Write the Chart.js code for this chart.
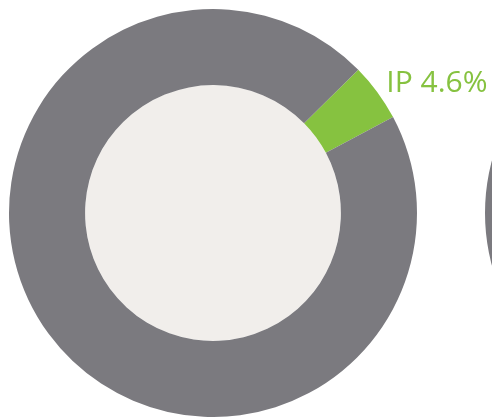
<!DOCTYPE html>
<html>
<head>
<meta charset="utf-8">
<script src="https://cdn.jsdelivr.net/npm/chart.js@4"></script>
<style>
  html, body { margin: 0; padding: 0; background: #fff; }
  #wrap { position: relative; width: 492px; height: 417px; overflow: hidden; }
  #main { position: absolute; left: 0; top: 0; }
  #next { position: absolute; left: 485px; top: 9px; }
</style>
</head>
<body>
<div id="wrap">
  <canvas id="main" width="492" height="417"></canvas>
  <canvas id="next" width="408" height="408"></canvas>
</div>
<script>
const labels = ["IP", "Other"];
const values = [4.6, 95.4];
const colors = ["#86c240", "#7b7a7f"];
const holeColor = "#f1eeeb";

// fill the doughnut hole
const holeFill = {
  id: "holeFill",
  beforeDatasetsDraw(chart) {
    const arc = chart.getDatasetMeta(0).data[0];
    if (!arc) return;
    const { x, y, innerRadius } = arc.getProps(["x", "y", "innerRadius"], true);
    const ctx = chart.ctx;
    ctx.save();
    ctx.fillStyle = holeColor;
    ctx.beginPath();
    ctx.arc(x, y, innerRadius, 0, Math.PI * 2);
    ctx.fill();
    ctx.restore();
  }
};

// label next to the first slice
const sliceLabel = {
  id: "sliceLabel",
  afterDatasetsDraw(chart) {
    const arc = chart.getDatasetMeta(0).data[0];
    const { x, y, startAngle, endAngle, outerRadius } =
      arc.getProps(["x", "y", "startAngle", "endAngle", "outerRadius"], true);
    const mid = (startAngle + endAngle) / 2;
    const px = x + Math.cos(mid) * outerRadius;
    const py = y + Math.sin(mid) * outerRadius;
    const ctx = chart.ctx;
    ctx.save();
    ctx.fillStyle = colors[0];
    ctx.font = "400 30px 'Open Sans'";
    ctx.textAlign = "left";
    ctx.textBaseline = "alphabetic";
    ctx.fillText(labels[0] + " " + values[0] + "%", px + 9, py);
    ctx.restore();
  }
};

new Chart(document.getElementById("main"), {
  type: "doughnut",
  data: {
    labels: labels,
    datasets: [{
      data: values,
      backgroundColor: colors,
      borderWidth: 0
    }]
  },
  options: {
    responsive: false,
    animation: false,
    rotation: 45.4,
    cutout: "62.7%",
    layout: { padding: { left: 9, top: 9, right: 75, bottom: 0 } },
    plugins: { legend: { display: false }, tooltip: { enabled: false } }
  },
  plugins: [holeFill, sliceLabel]
});

// neighbouring doughnut, only its left edge is in view
new Chart(document.getElementById("next"), {
  type: "doughnut",
  data: {
    labels: ["Other"],
    datasets: [{ data: [100], backgroundColor: [colors[1]], borderWidth: 0 }]
  },
  options: {
    responsive: false,
    animation: false,
    cutout: "62.7%",
    plugins: { legend: { display: false }, tooltip: { enabled: false } }
  }
});
</script>
</body>
</html>
